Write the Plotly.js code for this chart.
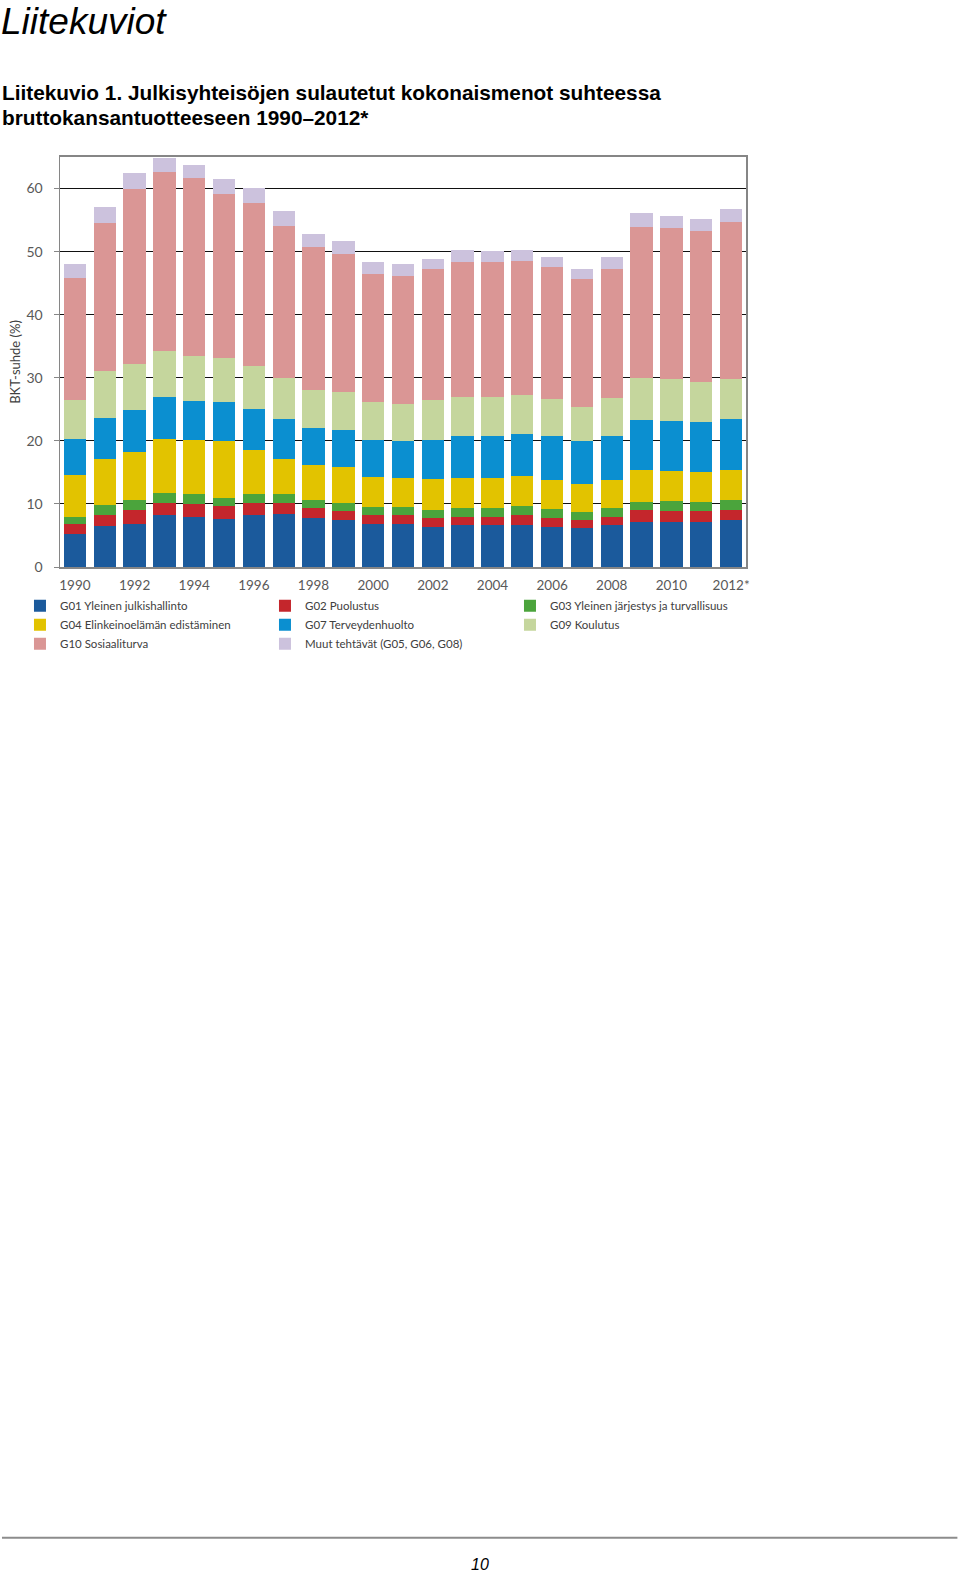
<!DOCTYPE html>
<html>
<head>
<meta charset="utf-8">
<script src="https://cdn.plot.ly/plotly-3.0.1.min.js"></script>
<style>
html,body{margin:0;padding:0;background:#fff;}
#chart{width:960px;height:1572px;}
</style>
</head>
<body>
<div id="chart"></div>
<script>
const years = ['1990','1991','1992','1993','1994','1995','1996','1997','1998','1999','2000','2001','2002','2003','2004','2005','2006','2007','2008','2009','2010','2011','2012*'];
const tickYears = ['1990','1992','1994','1996','1998','2000','2002','2004','2006','2008','2010','2012*'];

const seriesNames = [
  'G01 Yleinen julkishallinto',
  'G02 Puolustus',
  'G03 Yleinen järjestys ja turvallisuus',
  'G04 Elinkeinoelämän edistäminen',
  'G07 Terveydenhuolto',
  'G09 Koulutus',
  'G10 Sosiaaliturva',
  'Muut tehtävät (G05, G06, G08)'
];

const g01 = [5.2,6.5,6.8,8.2,8.0,7.6,8.2,8.4,7.8,7.4,6.8,6.8,6.4,6.6,6.6,6.6,6.4,6.2,6.6,7.2,7.2,7.2,7.4];
const g02 = [1.6,1.7,2.2,1.9,2.0,2.0,2.0,1.8,1.5,1.4,1.4,1.4,1.4,1.4,1.3,1.6,1.4,1.3,1.3,1.8,1.6,1.6,1.6];
const g03 = [1.2,1.6,1.6,1.7,1.6,1.4,1.4,1.4,1.4,1.4,1.3,1.3,1.2,1.3,1.4,1.4,1.4,1.2,1.4,1.3,1.6,1.5,1.6];
const g04 = [6.6,7.3,7.6,8.5,8.6,8.9,7.0,5.5,5.4,5.6,4.8,4.6,4.9,4.8,4.8,4.8,4.6,4.4,4.5,5.1,4.8,4.7,4.8];
const g07 = [5.7,6.6,6.7,6.6,6.1,6.3,6.4,6.4,6.0,5.9,5.8,5.8,6.2,6.6,6.6,6.7,6.9,6.8,7.0,7.9,7.9,8.0,8.0];
const g09 = [6.2,7.3,7.3,7.3,7.2,7.0,6.9,6.4,6.0,6.0,6.0,6.0,6.3,6.2,6.3,6.2,6.0,5.5,6.0,6.7,6.7,6.3,6.4];
const g10 = [19.3,23.5,27.7,28.4,28.1,25.9,25.8,24.2,22.6,22.0,20.3,20.2,20.8,21.5,21.3,21.2,20.9,20.2,20.4,23.9,23.9,23.9,24.9];
const muut = [2.3,2.6,2.5,2.2,2.1,2.4,2.4,2.3,2.1,2.0,1.9,1.9,1.7,1.8,1.8,1.8,1.6,1.7,1.9,2.2,2.0,2.0,2.0];

const seriesValues = [g01,g02,g03,g04,g07,g09,g10,muut];
const colors = ['#1b5a9c','#c4262c','#4ba43c','#e2c300','#0b8fd0','#c5d69d','#da9695','#ccc2dd'];

// page geometry (pixels)
const W = 960, H = 1572;
const M = {l:60, r:214.3, t:157.3, b:1005.3};
const pw = W - M.l - M.r, ph = H - M.t - M.b;
const px2x = px => (px - M.l) / pw;
const py2y = py => (H - M.b - py) / ph;

const textFont = 'Lato, "Open Sans", sans-serif';
const headFont = '"Liberation Sans", Arial, sans-serif';
const grey = '#404040';

const traces = seriesNames.map((name, i) => ({
  type: 'bar',
  name: name,
  x: years,
  y: seriesValues[i],
  marker: {color: colors[i], line: {width: 0}},
  hoverinfo: 'x+y+name'
}));

const layout = {
  width: W, height: H,
  margin: M,
  paper_bgcolor: '#ffffff',
  plot_bgcolor: '#ffffff',
  barmode: 'stack',
  bargap: 0.25,
  showlegend: true,
  title: {
    text: '<i>Liitekuviot</i>',
    font: {family: headFont, size: 37, color: '#000'},
    x: 1/W, xanchor: 'left', xref: 'container',
    y: 1 - 21/H, yanchor: 'middle', yref: 'container',
    pad: {t: 0, b: 0, l: 0, r: 0}
  },
  xaxis: {
    type: 'category',
    categoryorder: 'array', categoryarray: years,
    tickmode: 'array', tickvals: tickYears, ticktext: tickYears,
    tickfont: {family: textFont, size: 13.5, color: '#595959'},
    ticks: '',
    ticklabelstandoff: 5,
    showline: true, linecolor: '#868686', linewidth: 2,
    mirror: true,
    showgrid: false, zeroline: false,
    fixedrange: true
  },
  yaxis: {
    range: [0, 65],
    tickvals: [0,10,20,30,40,50,60],
    tickfont: {family: textFont, size: 14, color: '#595959'},
    ticks: 'outside', ticklen: 5, tickcolor: '#868686', tickwidth: 1,
    ticklabelstandoff: 8,
    showline: true, linecolor: '#868686', linewidth: 1.5,
    mirror: true,
    showgrid: true, gridcolor: '#111111', gridwidth: 1,
    zeroline: false,
    title: {text: 'BKT-suhde (%)', font: {family: textFont, size: 13, color: grey}, standoff: 3},
    fixedrange: true
  },
  legend: {
    orientation: 'h',
    x: px2x(20), xanchor: 'left',
    y: py2y(591), yanchor: 'top',
    entrywidth: 200, entrywidthmode: 'pixels',
    itemwidth: 30,
    traceorder: 'normal',
    font: {family: textFont, size: 11.5, color: grey},
    bgcolor: 'rgba(0,0,0,0)', borderwidth: 0
  },
  shapes: [
    {type: 'line', xref: 'paper', yref: 'paper',
     x0: px2x(2), x1: px2x(957), y0: py2y(1536), y1: py2y(1536),
     line: {color: '#8c8c8c', width: 2}}
  ],
  annotations: [
    {text: '<b>Liitekuvio 1. Julkisyhteisöjen sulautetut kokonaismenot suhteessa</b>',
     xref: 'paper', yref: 'paper', x: px2x(0), y: py2y(93), xanchor: 'left', yanchor: 'middle',
     showarrow: false, align: 'left',
     font: {family: headFont, size: 20.8, color: '#000'}},
    {text: '<b>bruttokansantuotteeseen 1990–2012*</b>',
     xref: 'paper', yref: 'paper', x: px2x(0), y: py2y(118), xanchor: 'left', yanchor: 'middle',
     showarrow: false, align: 'left',
     font: {family: headFont, size: 20.8, color: '#000'}},
    {text: '<i>10</i>',
     xref: 'paper', yref: 'paper', x: px2x(480), y: py2y(1563), xanchor: 'center', yanchor: 'middle',
     showarrow: false,
     font: {family: headFont, size: 16, color: '#000'}}
  ]
};

Plotly.newPlot('chart', traces, layout, {displayModeBar: false, staticPlot: true});
</script>
</body>
</html>
